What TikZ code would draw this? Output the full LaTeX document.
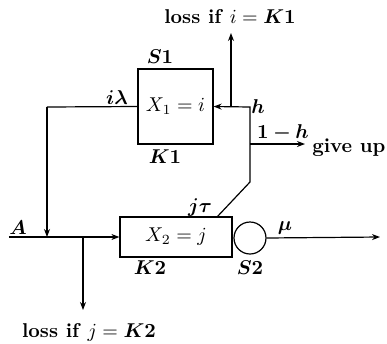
\documentclass[tikz,border=0pt]{standalone}
\usepackage{amsmath,bm}
\usetikzlibrary{arrows.meta}
\begin{document}
\begin{tikzpicture}[x=0.5pt,y=-0.5pt,line width=0.6pt,
  arr/.style={-{Stealth[length=4pt,width=3pt]}},
  lbl/.style={inner sep=0pt},
  qbox/.style={draw,inner sep=0pt}]
\useasboundingbox (0,0) rectangle (387,344);
% boxes
\node[qbox,minimum width=37.5pt,minimum height=37.5pt] (b1) at (175.5,106.5) {$X_1=i$};
\node[qbox,minimum width=56pt,minimum height=20pt] (b2) at (176,237) {$X_2=j$};
\node[draw,circle,minimum size=16pt,inner sep=0pt] (s2) at (250,238) {};
% coordinates
\coordinate (st) at (9,237);
\coordinate (lt) at (47,107);
\coordinate (lb) at (47,237);
\coordinate (dn) at (83,237);
\coordinate (dne) at (83,310);
\coordinate (rt) at (250,107);
\coordinate (up) at (231,107);
\coordinate (upe) at (231,33);
\coordinate (gv) at (250,144);
\coordinate (gve) at (305,144);
\coordinate (rk) at (250,182);
\coordinate (bt) at (217,217);
\coordinate (oute) at (380,237);
% connectors
\draw (b1.west) -- (lt);
\draw[arr] (lt) -- (lb);
\draw[arr] (st) -- (b2.west);
\draw[arr] (dn) -- (dne);
\draw[arr] (bt) -- (rk) -- (rt) -- (b1.east);
\draw[arr] (up) -- (upe);
\draw[arr] (gv) -- (gve);
\draw[arr] (s2.east) -- (oute);
% labels
\node[lbl] (t1) at (230,17) {\textbf{loss if} $i=\bm{K1}$};
\node[lbl] (t2) at (89,332) {\textbf{loss if} $j=\bm{K2}$};
\node[lbl] (ls1) at (160,57) {$\bm{S1}$};
\node[lbl] (lk1) at (165,157) {$\bm{K1}$};
\node[lbl] (lk2) at (150,268) {$\bm{K2}$};
\node[lbl] (ls2) at (250,268) {$\bm{S2}$};
\node[lbl] (la) at (18,228) {$\bm{A}$};
\node[lbl] (lil) at (117,98) {$\bm{i\lambda}$};
\node[lbl] (ljt) at (200,208) {$\bm{j\tau}$};
\node[lbl] (lmu) at (285,228) {$\bm{\mu}$};
\node[lbl] (lh) at (258,107) {$\bm{h}$};
\node[lbl] (l1h) at (283,133) {$\bm{1-h}$};
\node[lbl,anchor=east] (lg) at (386,148) {\textbf{give up}};
\end{tikzpicture}
\end{document}
